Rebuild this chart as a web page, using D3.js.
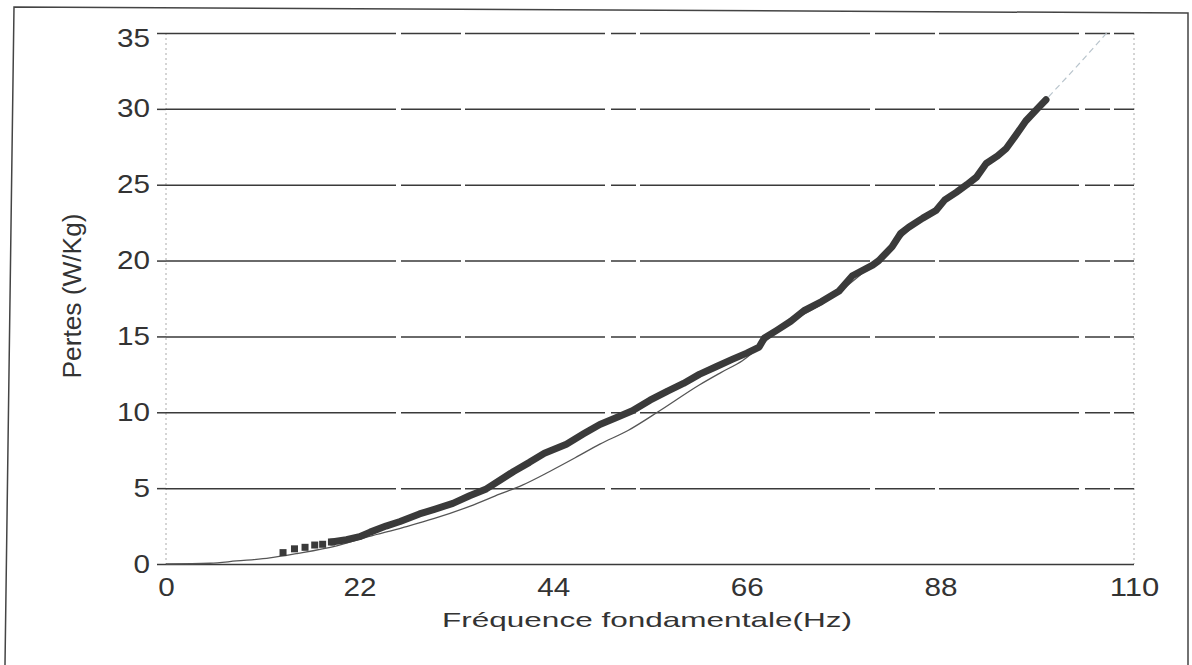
<!DOCTYPE html>
<html>
<head>
<meta charset="utf-8">
<script src="https://cdn.jsdelivr.net/npm/d3@7"></script>
<style>
  body { margin: 0; background: #fff; }
  svg { display: block; font-family: "Liberation Sans", Arial, sans-serif; }
</style>
</head>
<body>
<div id="chart-area"></div>
<script>
// frequences / pertes mesurees (courbe epaisse)
var mesureF = [13.3, 14.6, 15.8, 16.9, 17.8, 18.8, 20.5, 22, 23.2, 25, 26.6, 28.8, 30.5, 32.6, 34.5, 36.4,
    37.9, 39.5, 41.3, 43, 45.5, 47.5, 49.3, 51, 53, 55, 57, 58.8, 60.6, 62.5, 64.4, 66, 67.4, 68,
    69.4, 71, 72.5, 74.5, 76.5, 78, 80.3, 81, 82.5, 83.5, 84.4, 86, 87.5, 88.5, 89.8, 91, 92.1, 93.2,
    94.5, 95.5, 96.5, 97.7, 99, 100];
var mesureP = [0.75, 1.0, 1.1, 1.25, 1.3, 1.45, 1.6, 1.8, 2.1, 2.5, 2.8, 3.3, 3.6, 4.0, 4.5, 4.95,
    5.5, 6.1, 6.7, 7.3, 7.9, 8.6, 9.2, 9.6, 10.1, 10.8, 11.4, 11.9, 12.5, 13.0, 13.5, 13.9, 14.3, 14.9,
    15.4, 16.0, 16.7, 17.3, 18.0, 19.0, 19.7, 20.0, 20.9, 21.8, 22.2, 22.8, 23.3, 24.0, 24.5, 25.0, 25.5, 26.4,
    26.9, 27.4, 28.2, 29.2, 30.0, 30.6];
var nbMarqueurs = 6;

// courbe modele (trait fin)
var modeleF = [0, 5, 8, 11.8, 15, 19.4, 23, 26.9, 30.5, 34.5, 37.9, 40.5, 43.6, 46.5, 49.3, 52.5, 56.1,
    60.6, 63, 65.5, 70, 75, 80, 85, 90, 95, 100.3, 103.5, 106.9];
var modeleP = [0, 0.05, 0.2, 0.4, 0.7, 1.2, 1.8, 2.4, 3.0, 3.8, 4.6, 5.2, 6.1, 7.0, 7.9, 8.8, 10.1,
    11.8, 12.6, 13.4, 15.6, 17.3, 19.6, 22.3, 24.6, 27.2, 30.8, 32.8, 35];
var debutPointille = 100;

var xTicks = [0, 22, 44, 66, 88, 110];
var yTicks = [0, 5, 10, 15, 20, 25, 30, 35];

var W = 1192, H = 665;
var margin = { top: 33, right: 58, bottom: 101, left: 166 },
    width = W - margin.left - margin.right,
    height = H - margin.top - margin.bottom;

var root = d3.select("#chart-area")
    .append("svg")
    .attr("width", W)
    .attr("height", H);

// cadre scanne
root.append("path")
    .attr("d", "M5,665 L14,7 L1188,13 L1188,665")
    .attr("fill", "none")
    .attr("stroke", "#444")
    .attr("stroke-width", 1.5);

var svg = root.append("g")
    .attr("transform", `translate(${margin.left},${margin.top})`);

var x = d3.scaleLinear().domain([0, 110]).range([0, width]);
var y = d3.scaleLinear().domain([0, 35]).range([height, 0]);

// bords verticaux pointilles
svg.selectAll(".vgrid")
    .data([0, 110])
    .enter()
    .append("line")
    .attr("class", "vgrid")
    .attr("x1", d => x(d)).attr("x2", d => x(d))
    .attr("y1", 0).attr("y2", height)
    .attr("stroke", "#aaa")
    .attr("stroke-width", 1)
    .attr("stroke-dasharray", "2,3");

// grille horizontale
var grid = svg.append("g")
    .attr("class", "grid")
    .call(d3.axisLeft(y).tickValues(yTicks).tickSize(-width).tickFormat(""));
grid.select(".domain").remove();
grid.selectAll("line")
    .attr("stroke", "#3a3a3a")
    .attr("stroke-width", 1.5)
    .attr("stroke-dasharray", d => d === 0 ? null : "230,5,60,4,140,6,25,4");

// axe y
var yAxis = svg.append("g")
    .attr("class", "y-axis")
    .call(d3.axisLeft(y).tickValues(yTicks).tickSize(9).tickPadding(7));
yAxis.select(".domain").remove();
yAxis.selectAll("line").attr("stroke", "#3a3a3a").attr("stroke-width", 1.5);
yAxis.selectAll("text")
    .attr("fill", "#333")
    .attr("font-size", "25px")
    .attr("dy", d => d === 35 ? "0.55em" : "0.32em")
    .attr("textLength", d => String(d).length * 16.5)
    .attr("lengthAdjust", "spacingAndGlyphs");

// axe x
var xAxis = svg.append("g")
    .attr("class", "x-axis")
    .attr("transform", `translate(0,${height})`)
    .call(d3.axisBottom(x).tickValues(xTicks).tickSize(0).tickPadding(14));
xAxis.select(".domain").remove();
xAxis.selectAll("text")
    .attr("fill", "#333")
    .attr("font-size", "25px")
    .attr("textLength", d => String(d).length * 16.5)
    .attr("lengthAdjust", "spacingAndGlyphs");

// titres
svg.append("text")
    .attr("x", 647 - margin.left)
    .attr("y", 627 - margin.top)
    .attr("text-anchor", "middle")
    .attr("font-size", "21px")
    .attr("fill", "#333")
    .attr("textLength", 410)
    .attr("lengthAdjust", "spacingAndGlyphs")
    .text("Fréquence fondamentale(Hz)");

svg.append("text")
    .attr("transform", `translate(${81 - margin.left},${296 - margin.top}) rotate(-90)`)
    .attr("text-anchor", "middle")
    .attr("font-size", "26px")
    .attr("fill", "#333")
    .attr("textLength", 165)
    .attr("lengthAdjust", "spacingAndGlyphs")
    .text("Pertes (W/Kg)");

// courbe modele
var modele = modeleF.map((f, i) => ({ f: f, p: modeleP[i] }));
var ligne = d3.line().x(d => x(d.f)).y(d => y(d.p)).curve(d3.curveMonotoneX);

svg.append("path")
    .datum(modele.filter(d => d.f <= debutPointille))
    .attr("fill", "none")
    .attr("stroke", "#555")
    .attr("stroke-width", 1.3)
    .attr("d", ligne);

svg.append("path")
    .datum(modele.filter(d => d.f >= debutPointille))
    .attr("fill", "none")
    .attr("stroke", "#b8c4cc")
    .attr("stroke-width", 1.2)
    .attr("stroke-dasharray", "6,4")
    .attr("d", ligne);

// mesures
var mesure = mesureF.map((f, i) => ({ f: f, p: mesureP[i] }));

svg.append("path")
    .datum(mesure.slice(nbMarqueurs - 1))
    .attr("fill", "none")
    .attr("stroke", "#3a3a3a")
    .attr("stroke-width", 7)
    .attr("stroke-linejoin", "round")
    .attr("stroke-linecap", "round")
    .attr("d", d3.line().x(d => x(d.f)).y(d => y(d.p)));

svg.selectAll(".marqueur")
    .data(mesure.slice(0, nbMarqueurs))
    .enter()
    .append("rect")
    .attr("class", "marqueur")
    .attr("x", d => x(d.f) - 3.5)
    .attr("y", d => y(d.p) - 3.5)
    .attr("width", 7)
    .attr("height", 7)
    .attr("fill", "#3a3a3a");
</script>
</body>
</html>
